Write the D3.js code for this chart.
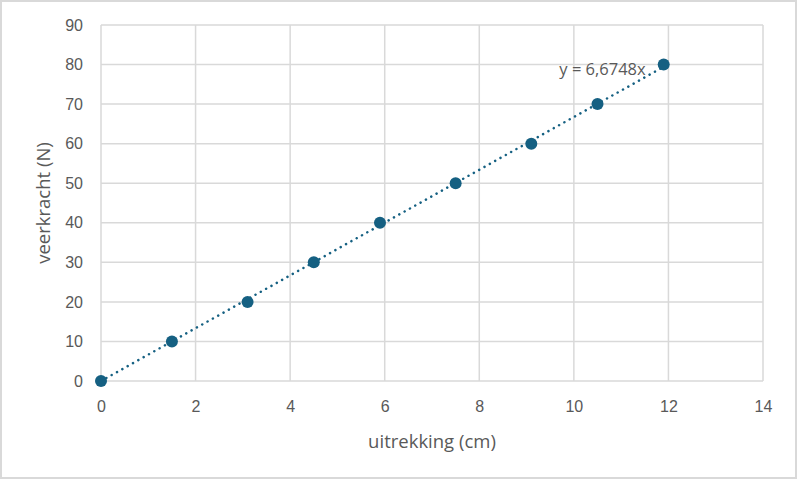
<!DOCTYPE html>
<html>
<head>
<meta charset="utf-8">
<script src="https://cdn.jsdelivr.net/npm/d3@7"></script>
<style>
  body { margin: 0; background: #fff; }
  svg { display: block; font-family: "Open Sans", "Noto Sans", sans-serif; }
  .tick text { fill: #595959; font-size: 16px; }
  .axisLabel { fill: #595959; font-size: 18.5px; }
</style>
</head>
<body>
<svg></svg>
<script>
// measured points: uitrekking (cm) vs veerkracht (N)
var uitrekking = [0, 1.5, 3.1, 4.5, 5.9, 7.5, 9.1, 10.5, 11.9];
var veerkracht = [0, 10, 20, 30, 40, 50, 60, 70, 80];
var xTicks = [0, 2, 4, 6, 8, 10, 12, 14];
var yTicks = [0, 10, 20, 30, 40, 50, 60, 70, 80, 90];
var slope = 6.6748;
var trendLabel = "y = 6,6748x";

var svgWidth = 798, svgHeight = 480;
var margin = { top: 25, right: 35, bottom: 99, left: 101 };
var width = svgWidth - margin.left - margin.right,
    height = svgHeight - margin.top - margin.bottom;

var svg = d3.select("svg")
    .attr("width", svgWidth)
    .attr("height", svgHeight);

// chart border
svg.append("rect")
    .attr("x", 1).attr("y", 1)
    .attr("width", svgWidth - 3).attr("height", svgHeight - 3)
    .attr("fill", "#fff")
    .attr("stroke", "#d9d9d9")
    .attr("stroke-width", 2);

var g = svg.append("g")
    .attr("transform", "translate(" + margin.left + "," + margin.top + ")");

var x = d3.scaleLinear().domain([0, 14]).range([0, width]);
var y = d3.scaleLinear().domain([0, 90]).range([height, 0]);

// gridlines
g.append("g").selectAll("line")
    .data(yTicks).enter().append("line")
    .attr("x1", 0).attr("x2", width)
    .attr("y1", d => y(d)).attr("y2", d => y(d))
    .attr("stroke", "#d9d9d9").attr("stroke-width", 1.5);

g.append("g").selectAll("line")
    .data(xTicks).enter().append("line")
    .attr("x1", d => x(d)).attr("x2", d => x(d))
    .attr("y1", 0).attr("y2", height)
    .attr("stroke", "#d9d9d9").attr("stroke-width", 1.5);

// axes (labels only)
var xAxis = g.append("g")
    .attr("transform", "translate(0," + height + ")")
    .call(d3.axisBottom(x).tickValues(xTicks).tickSize(0).tickPadding(20));
xAxis.select(".domain").remove();

var yAxis = g.append("g")
    .call(d3.axisLeft(y).tickValues(yTicks).tickSize(0).tickPadding(18));
yAxis.select(".domain").remove();

g.append("text")
    .attr("class", "axisLabel")
    .attr("text-anchor", "middle")
    .attr("x", width / 2)
    .attr("y", height + 67)
    .text("uitrekking (cm)");

g.append("text")
    .attr("class", "axisLabel")
    .attr("text-anchor", "middle")
    .attr("transform", "translate(-51," + (height / 2) + ") rotate(-90)")
    .text("veerkracht (N)");

// trendline through origin
var xMax = d3.max(uitrekking);
g.append("line")
    .attr("x1", x(0)).attr("y1", y(0))
    .attr("x2", x(xMax)).attr("y2", y(slope * xMax))
    .attr("stroke", "#156082")
    .attr("stroke-width", 2.5)
    .attr("stroke-linecap", "round")
    .attr("stroke-dasharray", "0.1 6");

// points
var data = uitrekking.map((u, i) => ({ u: u, f: veerkracht[i] }));
g.append("g").selectAll("circle")
    .data(data).enter().append("circle")
    .attr("cx", d => x(d.u))
    .attr("cy", d => y(d.f))
    .attr("r", 6)
    .attr("fill", "#156082");

g.append("text")
    .attr("x", x(xMax) - 18)
    .attr("y", y(slope * xMax) + 8)
    .attr("text-anchor", "end")
    .attr("fill", "#595959")
    .style("font-size", "16.5px")
    .text(trendLabel);
</script>
</body>
</html>
